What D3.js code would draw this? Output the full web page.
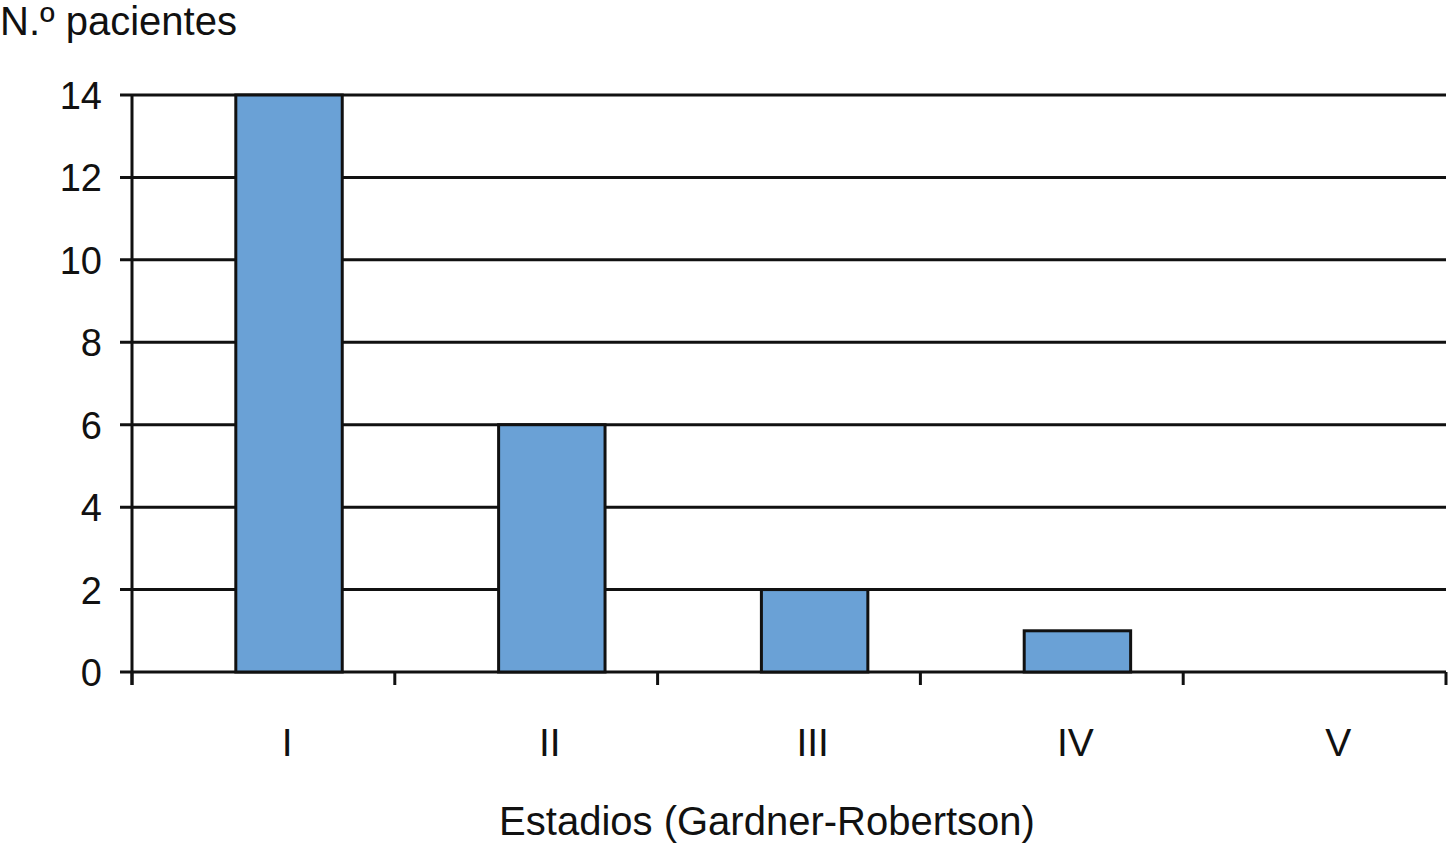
<!DOCTYPE html>
<html>
<head>
<meta charset="utf-8">
<script src="https://cdn.jsdelivr.net/npm/d3@7"></script>
<style>
  body { margin: 0; background: #fff; }
  svg { display: block; font-family: "Liberation Sans", Arial, sans-serif; }
</style>
</head>
<body>
<div id="chart"></div>
<script>
// Data
const stages = ['I', 'II', 'III', 'IV', 'V'];
const patients = [14, 6, 2, 1, 0];
const yTicks = [0, 2, 4, 6, 8, 10, 12, 14];

const width = 1449;
const height = 856;
const margin = { left: 132, right: 3, top: 95, bottom: 184 };

const svg = d3.select('#chart')
    .append('svg')
    .attr('width', width)
    .attr('height', height);

const x = d3.scaleBand()
    .domain(stages)
    .range([margin.left, width - margin.right])
    .padding(0);

const y = d3.scaleLinear()
    .domain([0, 14])
    .range([height - margin.bottom, margin.top]);

const step = x.step();
const barOffset = step * 0.395;
const barWidth = step * 0.405;

// Gridlines + y ticks
svg.append('g')
    .selectAll('line')
    .data(yTicks)
    .enter()
    .append('line')
    .attr('x1', margin.left - 12)
    .attr('x2', width - margin.right)
    .attr('y1', d => y(d))
    .attr('y2', d => y(d))
    .attr('stroke', '#111')
    .attr('stroke-width', 3);

// Y tick labels
svg.append('g')
    .selectAll('text')
    .data(yTicks)
    .enter()
    .append('text')
    .attr('x', 102)
    .attr('y', d => y(d) + 14)
    .attr('text-anchor', 'end')
    .attr('font-size', '38px')
    .attr('fill', '#111')
    .text(d => d);

// Bars
svg.append('g')
    .selectAll('rect')
    .data(stages.map((s, i) => ({ stage: s, value: patients[i] })).filter(d => d.value > 0))
    .enter()
    .append('rect')
    .attr('x', d => x(d.stage) + barOffset)
    .attr('y', d => y(d.value))
    .attr('width', barWidth)
    .attr('height', d => y(0) - y(d.value))
    .attr('fill', '#6aa1d6')
    .attr('stroke', '#111')
    .attr('stroke-width', 3);

// Y axis line
svg.append('line')
    .attr('x1', margin.left)
    .attr('x2', margin.left)
    .attr('y1', y(14))
    .attr('y2', y(0) + 13)
    .attr('stroke', '#111')
    .attr('stroke-width', 3);

// X ticks at band boundaries
const boundaries = stages.map(s => x(s)).concat([x.range()[1]]);
svg.append('g')
    .selectAll('line')
    .data(boundaries)
    .enter()
    .append('line')
    .attr('x1', d => d)
    .attr('x2', d => d)
    .attr('y1', y(0))
    .attr('y2', y(0) + 13)
    .attr('stroke', '#111')
    .attr('stroke-width', 3);

// X labels
svg.append('g')
    .selectAll('text')
    .data(stages)
    .enter()
    .append('text')
    .attr('x', d => x(d) + step * 0.59)
    .attr('y', 756)
    .attr('text-anchor', 'middle')
    .attr('font-size', '39px')
    .attr('fill', '#111')
    .text(d => d);

// Axis titles
svg.append('text')
    .attr('x', 0)
    .attr('y', 35)
    .attr('font-size', '40px')
    .attr('fill', '#111')
    .text('N.º pacientes');

svg.append('text')
    .attr('x', 767)
    .attr('y', 835)
    .attr('text-anchor', 'middle')
    .attr('font-size', '40px')
    .attr('fill', '#111')
    .text('Estadios (Gardner-Robertson)');
</script>
</body>
</html>
